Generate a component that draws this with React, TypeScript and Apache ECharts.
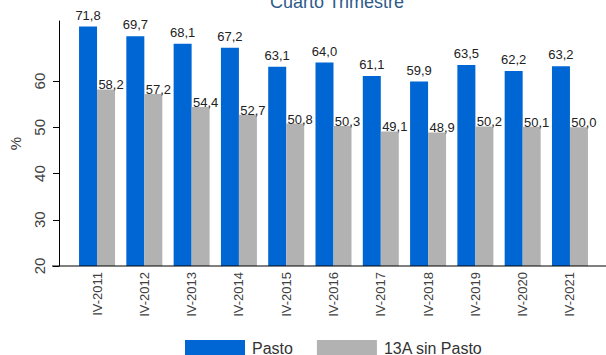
import React, { useEffect, useRef } from "react";
import * as echarts from "echarts";

const categories = ["IV-2011", "IV-2012", "IV-2013", "IV-2014", "IV-2015", "IV-2016", "IV-2017", "IV-2018", "IV-2019", "IV-2020", "IV-2021"];
const pasto = [71.8, 69.7, 68.1, 67.2, 63.1, 64.0, 61.1, 59.9, 63.5, 62.2, 63.2];
const sinPasto = [58.2, 57.2, 54.4, 52.7, 50.8, 50.3, 49.1, 48.9, 50.2, 50.1, 50.0];
const yTicks = [20, 30, 40, 50, 60];

const fmt = (v: number) => v.toFixed(1).replace(".", ",");

export default function App() {
  const ref = useRef<HTMLDivElement>(null);
  useEffect(() => {
    if (!ref.current) return;
    const chart = echarts.init(ref.current, null, { renderer: "svg" });
    const font = "Arial, 'Liberation Sans', sans-serif";
    chart.setOption({
      animation: false,
      textStyle: { fontFamily: font },
      title: {
        text: "Cuarto Trimestre",
        left: 332,
        textAlign: "center",
        top: -12,
        textStyle: { fontSize: 18, fontWeight: "normal", color: "#2e5a8a", fontFamily: font },
      },
      legend: {
        left: 180,
        top: 335,
        itemWidth: 60,
        itemHeight: 16,
        itemGap: 24,
        icon: "rect",
        textStyle: { fontSize: 16, color: "#333", padding: [0, 0, 0, 2], fontFamily: font },
        data: ["Pasto", "13A sin Pasto"],
      },
      grid: { left: 73.4, right: 12.4, top: 21, bottom: 89, containLabel: false },
      xAxis: {
        type: "category",
        data: categories,
        axisLine: { show: false },
        axisTick: { show: false },
        axisLabel: { rotate: 90, fontSize: 13, color: "#404040", margin: 6, fontFamily: font },
      },
      yAxis: {
        type: "value",
        min: 20,
        max: 73,
        interval: 10,
        offset: 14.4,
        name: "%",
        nameLocation: "middle",
        nameGap: 36,
        nameRotate: 90,
        nameTextStyle: { fontSize: 15, color: "#333", fontFamily: font },
        axisLine: { show: true, lineStyle: { color: "#000", width: 1 } },
        axisTick: { show: true, length: 6, customValues: yTicks, lineStyle: { color: "#000" } },
        axisLabel: { rotate: 90, fontSize: 15, color: "#404040", margin: 12, customValues: yTicks, fontFamily: font },
        splitLine: { show: false },
      },
      graphic: [
        {
          type: "line",
          shape: { x1: 52, y1: 266, x2: 606, y2: 266 },
          style: { stroke: "#000", lineWidth: 1 },
          z: 10,
        },
      ],
      series: [
        {
          name: "Pasto",
          type: "bar",
          data: pasto,
          barWidth: 18,
          barGap: "0%",
          itemStyle: { color: "#0066d4" },
          label: {
            show: true,
            position: "top",
            distance: 5,
            fontSize: 13,
            color: "#222",
            fontFamily: font,
            formatter: (p: any) => fmt(p.value),
          },
        },
        {
          name: "13A sin Pasto",
          type: "bar",
          data: sinPasto,
          barWidth: 18,
          barGap: "0%",
          itemStyle: { color: "#b2b2b2" },
          label: {
            show: true,
            position: "top",
            distance: 0,
            offset: [5, 2],
            fontSize: 13,
            color: "#222",
            fontFamily: font,
            formatter: (p: any) => fmt(p.value),
          },
        },
      ],
    });
    return () => chart.dispose();
  }, []);
  return <div ref={ref} style={{ width: 606, height: 355, position: "absolute", left: 0, top: 0 }} />;
}
